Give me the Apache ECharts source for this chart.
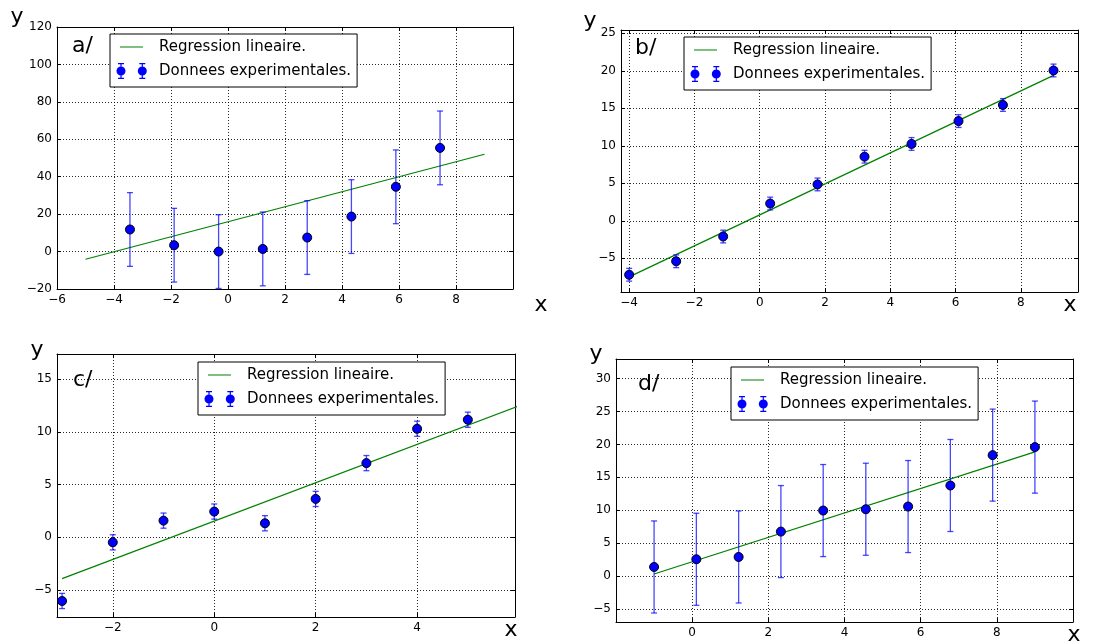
<!DOCTYPE html>
<html>
<head>
<meta charset="utf-8">
<title>Regressions</title>
<script src="https://cdn.jsdelivr.net/npm/echarts@6/dist/echarts.min.js"></script>
<style>
    html, body {margin: 0; padding: 0; background: #fff;}
    #main {width: 1118px; height: 643px;}
</style>
</head>
<body>
<div id="main"></div>
<script>
// a/ : donnees, barres d'erreur, droite de regression
let xA = [-3.44, -1.89, -0.33, 1.22, 2.78, 4.33, 5.89, 7.44];
let yA = [11.8, 3.4, 0.0, 1.4, 7.5, 18.7, 34.6, 55.4];
let errA = 19.7;
let fitXA = [-5, 9];
let fitYA = [-4.1, 52.0];

// b/
let xB = [-4.0, -2.56, -1.12, 0.32, 1.77, 3.21, 4.65, 6.09, 7.45, 9.0];
let yB = [-7.2, -5.4, -2.1, 2.3, 4.85, 8.55, 10.25, 13.3, 15.45, 20.05];
let errB = 0.85;
let fitXB = [-4, 9];
let fitYB = [-7.48, 19.4];

// c/
let xC = [-3, -2, -1, 0, 1, 2, 3, 4, 5];
let yC = [-6.05, -0.48, 1.58, 2.44, 1.33, 3.64, 7.04, 10.3, 11.16];
let errC = 0.72;
let fitXC = [-3, 6];
let fitYC = [-3.93, 12.45];

// d/
let xD = [-1.0, 0.11, 1.22, 2.33, 3.44, 4.56, 5.67, 6.78, 7.89, 9.0];
let yD = [1.37, 2.54, 2.89, 6.75, 9.95, 10.15, 10.56, 13.76, 18.38, 19.6];
let errD = 7.0;
let fitXD = [-1, 9];
let fitYD = [0.3, 18.88];

// graduations
let xTicksA = [-6, -4, -2, 0, 2, 4, 6, 8, 10];
let xLabelsA = [-6, -4, -2, 0, 2, 4, 6, 8];
let yTicksA = [-20, 0, 20, 40, 60, 80, 100, 120];
let xTicksB = [-4, -2, 0, 2, 4, 6, 8];
let yTicksB = [-5, 0, 5, 10, 15, 20, 25];
let xTicksC = [-2, 0, 2, 4];
let yTicksC = [-5, 0, 5, 10, 15];
let xTicksD = [0, 2, 4, 6, 8];
let yTicksD = [-5, 0, 5, 10, 15, 20, 25, 30];

const FONT = 'DejaVu Sans';
const LINE_NAME = 'Regression lineaire.';
const DATA_NAME = 'Donnees experimentales.';

// icones de legende (boite 38x18, coins fixes par deux points minuscules)
const CORNERS = 'M0 0h0.01v0.01h-0.01Z M37.99 17.99h0.01v0.01h-0.01Z ';
const ICON_LINE = 'path://' + CORNERS + 'M4 8.4h23v1.2h-23Z';
function barIcon(cx) {
    // chapeaux + barre + rond, tout dans le meme sens
    return 'M' + (cx - 3) + ' 1h6v1.2h-6Z ' +
        'M' + (cx - 3) + ' 15.8h6v1.2h-6Z ' +
        'M' + (cx - 0.6) + ' 2.2h1.2v3h-1.2Z ' +
        'M' + (cx - 0.6) + ' 12.8h1.2v3h-1.2Z ' +
        'M' + (cx - 4.5) + ' 9a4.5 4.5 0 0 1 4.5 -4.5a4.5 4.5 0 0 1 4.5 4.5' +
        'a4.5 4.5 0 0 1 -4.5 4.5a4.5 4.5 0 0 1 -4.5 -4.5Z ';
}
const ICON_DATA = 'path://' + CORNERS + barIcon(5) + barIcon(26.3);

let panels = [
    {x: xA, y: yA, err: errA, fx: fitXA, fy: fitYA, xr: [-6, 10], yr: [-20, 120],
        xt: xTicksA, xl: xLabelsA, yt: yTicksA,
        grid: {left: 57, top: 27, width: 456, height: 262}, legend: [110, 34],
        tag: 'a/', tagPos: [72, 46], yPos: [17, 17], xPos: [541, 305]},
    {x: xB, y: yB, err: errB, fx: fitXB, fy: fitYB, xr: [-4.25, 9.75], yr: [-9.5, 25.45],
        xt: xTicksB, xl: xTicksB, yt: yTicksB,
        grid: {left: 621, top: 30, width: 457, height: 262}, legend: [684, 37],
        tag: 'b/', tagPos: [635, 48], yPos: [590, 21], xPos: [1070, 305]},
    {x: xC, y: yC, err: errC, fx: fitXC, fy: fitYC, xr: [-3.1, 5.93], yr: [-7.57, 17.4],
        xt: xTicksC, xl: xTicksC, yt: yTicksC,
        grid: {left: 57, top: 354, width: 458, height: 263}, legend: [198, 362],
        tag: 'c/', tagPos: [73, 380], yPos: [37, 350], xPos: [511, 630]},
    {x: xD, y: yD, err: errD, fx: fitXD, fy: fitYD, xr: [-2, 10], yr: [-7, 33],
        xt: xTicksD, xl: xTicksD, yt: yTicksD,
        grid: {left: 616, top: 359, width: 457, height: 263}, legend: [731, 367],
        tag: 'd/', tagPos: [638, 384], yPos: [596, 354], xPos: [1074, 635]}
];

function minus(v) {
    return String(v).replace('-', '\u2212');
}

// barres d'erreur verticales avec petits chapeaux
function errorBars(params, api) {
    let x = api.value(0), y = api.value(1), e = api.value(2);
    let hi = api.coord([x, y + e]);
    let lo = api.coord([x, y - e]);
    let cap = 3;
    let style = {stroke: 'rgba(0,0,255,0.72)', lineWidth: 1.3};
    return {
        type: 'group',
        children: [
            {type: 'line', shape: {x1: hi[0], y1: hi[1], x2: lo[0], y2: lo[1]}, style: style},
            {type: 'line', shape: {x1: hi[0] - cap, y1: hi[1], x2: hi[0] + cap, y2: hi[1]}, style: style},
            {type: 'line', shape: {x1: lo[0] - cap, y1: lo[1], x2: lo[0] + cap, y2: lo[1]}, style: style}
        ]
    };
}

function axisBase(extra) {
    return Object.assign({
        type: 'value',
        axisLine: {show: true, onZero: false, lineStyle: {color: '#000', width: 1}},
        axisTick: {show: true, inside: true, length: 4, lineStyle: {color: '#000'}},
        axisLabel: {show: false},
        splitLine: {show: false}
    }, extra);
}

let option = {
    backgroundColor: '#fff',
    animation: false,
    grid: [], xAxis: [], yAxis: [], series: [], legend: [], graphic: []
};

panels.forEach(function (p, i) {
    option.grid.push(Object.assign({containLabel: false}, p.grid));
    let labelStyle = {show: true, color: '#000', fontFamily: FONT, fontSize: 12, margin: 5, formatter: minus};
    let split = {show: true, lineStyle: {color: '#000', width: 1, type: [1, 2], opacity: 0.85}};
    // axes bas / gauche avec graduations, haut / droite pour le cadre
    option.xAxis.push(axisBase({gridIndex: i, position: 'bottom', min: p.xr[0], max: p.xr[1],
        axisTick: {show: true, inside: true, length: 4, lineStyle: {color: '#000'}, customValues: p.xt},
        axisLabel: Object.assign({customValues: p.xl}, labelStyle),
        splitLine: split}));
    option.xAxis.push(axisBase({gridIndex: i, position: 'top', min: p.xr[0], max: p.xr[1],
        axisTick: {show: true, inside: true, length: 4, lineStyle: {color: '#000'}, customValues: p.xt}}));
    option.yAxis.push(axisBase({gridIndex: i, position: 'left', min: p.yr[0], max: p.yr[1],
        axisTick: {show: true, inside: true, length: 4, lineStyle: {color: '#000'}, customValues: p.yt},
        axisLabel: Object.assign({customValues: p.yt}, labelStyle),
        splitLine: split}));
    option.yAxis.push(axisBase({gridIndex: i, position: 'right', min: p.yr[0], max: p.yr[1],
        axisTick: {show: true, inside: true, length: 4, lineStyle: {color: '#000'}, customValues: p.yt}}));

    let ax = i * 2;
    option.series.push({
        name: LINE_NAME, type: 'line', xAxisIndex: ax, yAxisIndex: ax,
        data: p.fx.map(function (v, k) { return [v, p.fy[k]]; }),
        symbol: 'none', color: '#008000', lineStyle: {color: '#008000', width: 1.2}, z: 2
    });
    option.series.push({
        name: 'barres', type: 'custom', xAxisIndex: ax, yAxisIndex: ax, clip: true,
        renderItem: errorBars, encode: {x: 0, y: 1},
        data: p.x.map(function (v, k) { return [v, p.y[k], p.err]; }), z: 3
    });
    option.series.push({
        name: DATA_NAME, type: 'scatter', xAxisIndex: ax, yAxisIndex: ax,
        data: p.x.map(function (v, k) { return [v, p.y[k]]; }),
        symbolSize: 9, itemStyle: {color: '#0000ff', borderColor: '#000', borderWidth: 1, opacity: 1}, z: 4
    });

    option.legend.push({
        orient: 'vertical', left: p.legend[0], top: p.legend[1],
        padding: [4, 6, 7, 6], itemGap: 6, itemWidth: 38, itemHeight: 18,
        backgroundColor: '#fff', borderColor: '#000', borderWidth: 1, borderRadius: 0,
        selectedMode: false, z: 10,
        textStyle: {fontFamily: FONT, fontSize: 15, color: '#000', lineHeight: 18},
        data: [
            {name: LINE_NAME, icon: ICON_LINE, itemStyle: {color: '#008000', borderWidth: 0}},
            {name: DATA_NAME, icon: ICON_DATA, itemStyle: {color: '#0000ff', borderWidth: 0}}
        ]
    });

    let big = {fontFamily: FONT, fontSize: 22, fill: '#000', verticalAlign: 'middle'};
    option.graphic.push({type: 'text', left: p.tagPos[0], top: p.tagPos[1] - 11,
        style: Object.assign({text: p.tag}, big), z: 20});
    option.graphic.push({type: 'text', x: p.yPos[0], y: p.yPos[1],
        style: Object.assign({text: 'y', align: 'center'}, big), z: 20});
    option.graphic.push({type: 'text', x: p.xPos[0], y: p.xPos[1],
        style: Object.assign({text: 'x', align: 'center'}, big), z: 20});
});

let myChart = echarts.init(document.getElementById('main'), null, {renderer: 'canvas'});
myChart.setOption(option);
</script>
</body>
</html>
